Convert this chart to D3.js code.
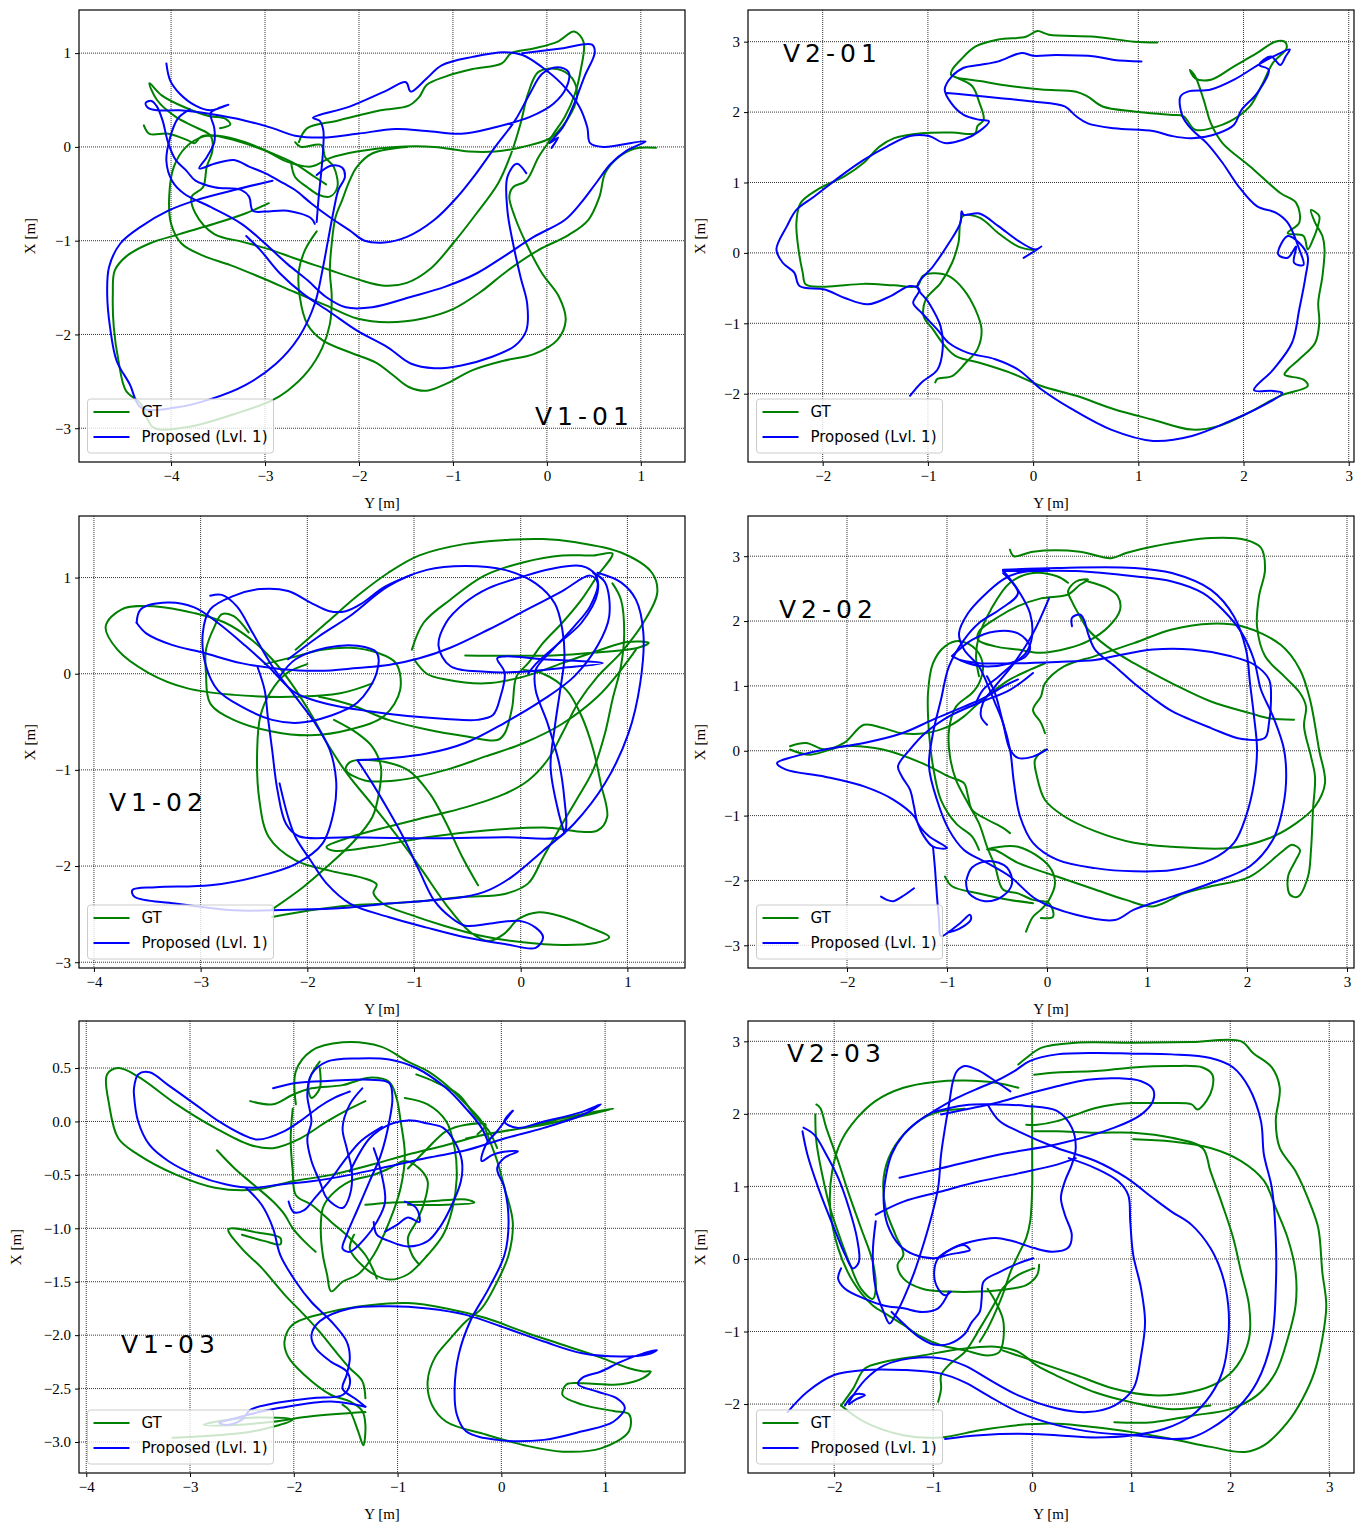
<!DOCTYPE html>
<html>
<head>
<meta charset="utf-8">
<script src="https://cdn.jsdelivr.net/npm/d3@7"></script>
<style>
  body { margin: 0; background: #fff; }
  text { font-family: "Liberation Serif", "DejaVu Serif", serif; }
</style>
</head>
<body>
<svg id="fig"></svg>
<script>
// Trajectories, each stroke is a list of [Y, X] in metres (Y horizontal, X vertical)

// ---- V1-01
var v101Gt = [
  [[1.16,-0.01],[0.93,-0.02],[0.75,-0.12],[0.62,-0.28],[0.56,-0.53],[0.44,-0.78],[0.23,-0.94],[-0.09,-1.10],[-0.42,-1.32],[-0.71,-1.55],[-1.00,-1.73],[-1.32,-1.83],[-1.69,-1.87],[-2.02,-1.83],[-2.35,-1.69],[-2.68,-1.55],[-3.05,-1.39],[-3.37,-1.26],[-3.66,-1.16],[-3.89,-1.03],[-4.00,-0.82],[-4.02,-0.53],[-3.97,-0.21],[-3.84,0.00],[-3.66,0.11],[-3.54,0.12],[-3.25,0.05],[-3.00,-0.04],[-2.76,-0.16],[-2.51,-0.21],[-2.31,-0.12],[-2.02,-0.05],[-1.61,0.00],[-1.20,0.00],[-0.83,-0.05],[-0.55,-0.05],[-0.26,0.00],[0.03,0.09],[0.21,0.28],[0.32,0.53],[0.27,0.73],[0.11,0.83],[-0.09,0.80],[-0.20,0.57],[-0.28,0.25],[-0.38,-0.07],[-0.52,-0.39],[-0.75,-0.71],[-1.00,-1.03],[-1.24,-1.30],[-1.49,-1.45],[-1.73,-1.48],[-2.02,-1.41],[-2.35,-1.30],[-2.68,-1.19],[-2.96,-1.09],[-3.25,-1.01],[-3.54,-0.93],[-3.74,-0.71],[-3.78,-0.53],[-3.66,-0.43],[-3.62,-0.21],[-3.56,-0.04],[-3.58,0.12],[-3.74,0.21],[-3.95,0.32],[-4.15,0.50],[-4.23,0.68],[-4.10,0.55],[-3.85,0.42],[-3.60,0.33],[-3.42,0.30],[-3.37,0.24],[-3.48,0.20]],
  [[-4.29,0.23],[-4.23,0.14],[-4.03,0.14],[-3.82,0.07],[-3.75,0.04],[-3.68,0.11],[-3.50,0.12],[-3.21,0.05],[-2.92,-0.07],[-2.68,-0.18],[-2.50,-0.30],[-2.35,-0.40]],
  [[-2.64,0.05],[-2.55,0.20],[-2.23,0.28],[-1.77,0.39],[-1.47,0.44],[-1.36,0.53],[-1.28,0.66],[-1.08,0.75],[-0.79,0.83],[-0.48,0.89],[-0.38,1.00],[-0.14,1.05],[0.11,1.12],[0.29,1.23],[0.39,1.12],[0.36,0.82],[0.30,0.57],[0.19,0.32],[0.07,0.14],[0.01,0.04],[-0.09,-0.11],[-0.22,-0.36],[-0.36,-0.43],[-0.40,-0.53],[-0.34,-0.75],[-0.22,-1.03],[-0.05,-1.35],[0.13,-1.60],[0.20,-1.85],[0.11,-2.06],[-0.14,-2.21],[-0.46,-2.28],[-0.79,-2.38],[-1.08,-2.53],[-1.28,-2.60],[-1.47,-2.56],[-1.63,-2.44],[-1.82,-2.30],[-2.10,-2.19],[-2.39,-2.06],[-2.55,-1.89],[-2.63,-1.60],[-2.64,-1.32],[-2.57,-1.09],[-2.45,-0.90]],
  [[-2.96,-0.60],[-3.21,-0.71],[-3.54,-0.82],[-3.91,-0.93],[-4.23,-1.03],[-4.48,-1.17],[-4.60,-1.32],[-4.62,-1.57],[-4.61,-1.92],[-4.56,-2.28],[-4.48,-2.60],[-4.32,-2.74],[-4.19,-2.99],[-3.84,-2.99],[-3.33,-2.85],[-2.92,-2.70],[-2.76,-2.60],[-2.55,-2.40],[-2.39,-2.14],[-2.31,-1.89],[-2.29,-1.60],[-2.31,-1.32],[-2.29,-1.03],[-2.25,-0.75],[-2.18,-0.57],[-2.10,-0.36],[-2.02,-0.21],[-1.86,-0.07],[-1.49,0.00]],
  [[-2.68,0.05],[-2.62,0.00],[-2.40,0.02],[-2.36,-0.11],[-2.27,-0.21],[-2.23,-0.43],[-2.31,-0.53],[-2.43,-0.51],[-2.55,-0.43],[-2.68,-0.32],[-2.72,-0.18]]
];
var v101Est = [
  [[-4.05,0.89],[-4.01,0.71],[-3.91,0.57],[-3.74,0.44],[-3.58,0.39],[-3.39,0.45],[-3.50,0.41],[-3.58,0.36],[-3.54,0.20],[-3.54,0.05],[-3.62,-0.11],[-3.70,-0.23],[-3.54,-0.18],[-3.33,-0.14],[-3.17,-0.21],[-3.00,-0.28],[-2.80,-0.39],[-2.68,-0.46],[-2.51,-0.60],[-2.31,-0.75],[-2.10,-0.89],[-1.94,-1.00],[-1.73,-1.02],[-1.49,-0.96],[-1.20,-0.78],[-0.95,-0.53],[-0.75,-0.28],[-0.55,0.00],[-0.34,0.28],[-0.18,0.57],[-0.05,0.78],[0.11,0.85],[0.23,0.80],[0.21,0.64],[0.07,0.46],[-0.18,0.32],[-0.55,0.21],[-0.91,0.14],[-1.28,0.17],[-1.61,0.19],[-2.02,0.14],[-2.39,0.10],[-2.68,0.12],[-2.92,0.20],[-3.21,0.28],[-3.58,0.35],[-3.91,0.39],[-4.15,0.39],[-4.25,0.42],[-4.27,0.47],[-4.21,0.49],[-4.15,0.43],[-4.09,0.28],[-4.03,0.04],[-3.95,-0.14],[-3.84,-0.25],[-3.74,-0.36],[-3.54,-0.43],[-3.25,-0.46],[-3.17,-0.53],[-3.13,-0.68],[-3.00,-0.69],[-2.76,-0.68],[-2.51,-0.76],[-2.47,-0.82]],
  [[-2.45,-0.80],[-2.43,-0.55],[-2.40,-0.25],[-2.38,0.00],[-2.38,0.18],[-2.42,0.28],[-2.49,0.31],[-2.10,0.43],[-1.73,0.59],[-1.50,0.69],[-1.45,0.59],[-1.28,0.73],[-1.12,0.87],[-0.79,0.96],[-0.46,1.01],[-0.26,0.98],[-0.05,0.85],[0.15,0.68],[0.34,0.44],[0.43,0.21],[0.46,0.04],[0.60,0.00],[1.05,0.06],[0.85,-0.04],[0.68,-0.18],[0.52,-0.39],[0.36,-0.60],[0.19,-0.78],[-0.14,-0.96],[-0.46,-1.17],[-0.75,-1.35],[-1.08,-1.49],[-1.45,-1.60],[-1.86,-1.71],[-2.14,-1.71],[-2.35,-1.60],[-2.55,-1.42],[-2.76,-1.25],[-3.00,-1.03],[-3.25,-0.82],[-3.58,-0.64],[-3.86,-0.50],[-3.99,-0.36],[-4.05,-0.15],[-4.01,0.10],[-3.93,0.30],[-3.80,0.40]],
  [[-0.26,1.00],[0.15,1.05],[0.48,1.09],[0.51,1.01],[0.40,0.75],[0.29,0.46],[0.17,0.21],[0.03,0.04],[0.12,0.10],[0.05,-0.01]],
  [[-0.22,-0.28],[-0.32,-0.18],[-0.42,-0.32],[-0.42,-0.68],[-0.36,-1.03],[-0.28,-1.39],[-0.21,-1.67],[-0.22,-1.96],[-0.34,-2.12],[-0.59,-2.24],[-0.91,-2.33],[-1.20,-2.36],[-1.45,-2.31],[-1.69,-2.14],[-2.02,-1.96],[-2.31,-1.76],[-2.59,-1.57],[-2.84,-1.35],[-3.05,-1.10],[-3.20,-0.95]],
  [[-2.92,-0.36],[-3.33,-0.46],[-3.74,-0.57],[-4.03,-0.68],[-4.32,-0.85],[-4.54,-1.03],[-4.66,-1.28],[-4.68,-1.57],[-4.65,-1.92],[-4.58,-2.28],[-4.44,-2.53],[-4.32,-2.78],[-3.95,-2.78],[-3.58,-2.69],[-3.21,-2.54],[-2.88,-2.31],[-2.64,-2.03],[-2.47,-1.67],[-2.39,-1.32],[-2.33,-1.00],[-2.27,-0.68],[-2.22,-0.46],[-2.15,-0.32],[-2.18,-0.22],[-2.30,-0.20],[-2.45,-0.30]]
];

// ---- V2-01
var v201Gt = [
  [[1.18,2.99],[0.96,3.00],[0.59,3.07],[0.15,3.10],[0.04,3.15],[-0.07,3.07],[-0.33,3.03],[-0.55,2.93],[-0.69,2.74],[-0.77,2.60],[-0.78,2.53],[-0.71,2.48],[-0.58,2.37],[-0.51,2.13],[-0.47,1.89],[-0.53,1.80],[-0.55,1.70],[-0.77,1.71],[-1.06,1.70],[-1.32,1.63],[-1.46,1.51],[-1.61,1.28],[-1.79,1.09],[-2.05,0.90],[-2.21,0.71],[-2.25,0.43],[-2.23,0.05],[-2.19,-0.28],[-2.16,-0.45],[-1.98,-0.48],[-1.61,-0.44],[-1.32,-0.46],[-1.10,-0.47],[-1.05,-0.33],[-0.95,-0.29],[-0.80,-0.33],[-0.66,-0.52],[-0.55,-0.80],[-0.49,-1.09],[-0.53,-1.37],[-0.64,-1.56],[-0.77,-1.75],[-0.91,-1.79],[-0.93,-1.84]],
  [[0.00,0.04],[-0.14,0.09],[-0.33,0.28],[-0.51,0.50],[-0.67,0.52],[-0.71,0.14],[-0.77,-0.14],[-0.88,-0.43],[-1.02,-0.66],[-1.04,-0.90],[-0.95,-1.09],[-0.84,-1.32],[-0.73,-1.47],[-0.51,-1.56],[-0.22,-1.70],[0.08,-1.89],[0.41,-2.03],[0.77,-2.22],[1.14,-2.37],[1.51,-2.51],[1.76,-2.46],[2.05,-2.27],[2.35,-2.03],[2.61,-1.89],[2.57,-1.80],[2.39,-1.73],[2.42,-1.66],[2.53,-1.51],[2.68,-1.28],[2.72,-0.99],[2.71,-0.71],[2.75,-0.33],[2.77,0.05],[2.75,0.24],[2.68,0.43],[2.64,0.61],[2.72,0.52],[2.70,0.35],[2.66,0.19],[2.61,0.05],[2.57,0.24],[2.42,0.28],[2.53,0.43],[2.50,0.71],[2.35,0.85],[2.06,1.23],[1.80,1.56],[1.69,1.84],[1.62,2.18],[1.54,2.51],[1.49,2.60],[1.54,2.48],[1.69,2.46],[1.91,2.65],[2.13,2.84],[2.30,3.00],[2.39,3.00],[2.41,2.91],[2.28,2.70],[2.17,2.37],[2.06,2.08],[1.95,1.94],[1.76,1.80],[1.54,1.75],[1.43,1.94],[1.32,1.96],[0.96,2.01],[0.66,2.08],[0.52,2.22],[0.41,2.29],[0.08,2.32],[-0.22,2.37],[-0.51,2.44],[-0.71,2.48]]
];
var v201Est = [
  [[1.03,2.72],[0.77,2.74],[0.59,2.79],[0.22,2.81],[0.00,2.80],[-0.11,2.84],[-0.33,2.72],[-0.51,2.67],[-0.66,2.63],[-0.77,2.51],[-0.84,2.32],[-0.78,2.13],[-0.66,1.96],[-0.51,1.89],[-0.42,1.87],[-0.51,1.73],[-0.66,1.61],[-0.84,1.56],[-0.99,1.66],[-1.17,1.66],[-1.39,1.51],[-1.61,1.32],[-1.83,1.09],[-2.08,0.80],[-2.25,0.61],[-2.34,0.38],[-2.44,0.05],[-2.38,-0.14],[-2.27,-0.28],[-2.22,-0.47],[-1.98,-0.52],[-1.79,-0.64],[-1.57,-0.73],[-1.35,-0.61],[-1.17,-0.47],[-1.08,-0.52],[-1.14,-0.71],[-1.06,-0.85],[-0.91,-1.09],[-0.80,-1.28],[-0.62,-1.42],[-0.36,-1.51],[-0.14,-1.66],[0.08,-1.94],[0.37,-2.22],[0.74,-2.51],[1.14,-2.67],[1.51,-2.60],[1.87,-2.39],[2.17,-2.18],[2.37,-1.99],[2.28,-1.96],[2.10,-1.95],[2.28,-1.66],[2.46,-1.28],[2.53,-0.80],[2.59,-0.33],[2.61,-0.05],[2.53,0.14],[2.42,0.24],[2.33,-0.02],[2.42,-0.07],[2.50,0.09],[2.48,-0.14],[2.57,-0.17],[2.53,0.05],[2.42,0.43],[2.31,0.57],[2.13,0.66],[1.95,0.95],[1.80,1.28],[1.65,1.56],[1.51,1.75],[1.42,1.94],[1.40,2.22],[1.47,2.29],[1.69,2.32],[1.91,2.46],[2.17,2.70],[2.31,2.81],[2.44,2.89],[2.40,2.79],[2.35,2.67],[2.26,2.79],[2.15,2.67],[2.24,2.60],[2.13,2.27],[1.98,2.03],[1.91,1.82],[1.76,1.70],[1.51,1.63],[1.32,1.66],[1.14,1.73],[0.77,1.77],[0.52,1.84],[0.41,1.94],[0.30,2.08],[0.00,2.15],[-0.33,2.20],[-0.66,2.25],[-0.82,2.27]],
  [[-0.09,-0.07],[0.08,0.09],[0.02,0.05],[-0.14,0.17],[-0.33,0.38],[-0.51,0.56],[-0.66,0.54],[-0.68,0.59],[-0.69,0.43],[-0.80,0.14],[-0.95,-0.19],[-1.10,-0.47],[-0.99,-0.71],[-0.88,-1.04],[-0.86,-1.37],[-0.91,-1.66],[-1.06,-1.84],[-1.17,-2.03]]
];

// ---- V1-02
var v102Gt = [
  [[-1.39,-0.10],[-1.68,-0.20],[-2.15,-0.24],[-2.69,-0.22],[-3.13,-0.15],[-3.49,0.01],[-3.78,0.25],[-3.89,0.49],[-3.74,0.67],[-3.42,0.70],[-3.06,0.63],[-2.77,0.53],[-2.52,0.35],[-2.33,0.15],[-2.15,-0.10],[-1.95,-0.45],[-1.80,-0.75],[-1.62,-1.05],[-1.40,-1.35],[-1.15,-1.70],[-0.92,-2.05],[-0.70,-2.40],[-0.48,-2.68],[-0.30,-2.78],[-0.15,-2.70],[-0.02,-2.55],[0.17,-2.48],[0.40,-2.53],[0.65,-2.64],[0.83,-2.74],[0.70,-2.80],[0.40,-2.82],[0.00,-2.79],[-0.35,-2.73],[-0.72,-2.62],[-1.05,-2.50],[-1.28,-2.40],[-1.38,-2.28],[-1.35,-2.19],[-1.49,-2.12],[-1.78,-2.05],[-2.11,-1.94],[-2.36,-1.70],[-2.45,-1.31],[-2.47,-0.79],[-2.44,-0.44],[-2.35,-0.20],[-2.20,0.00],[-2.00,0.10]],
  [[-2.11,0.25],[-1.82,0.53],[-1.53,0.81],[-1.24,1.05],[-0.95,1.23],[-0.52,1.35],[-0.15,1.39],[0.21,1.40],[0.50,1.37],[0.94,1.26],[1.23,1.05],[1.28,0.84],[1.15,0.53],[0.94,0.22],[0.72,-0.03],[0.54,-0.30],[0.39,-0.62],[0.25,-0.90],[0.07,-1.11],[-0.15,-1.25],[-0.52,-1.39],[-0.88,-1.49],[-1.24,-1.59],[-1.60,-1.70],[-1.82,-1.80],[-1.75,-1.84],[-1.39,-1.80],[-0.88,-1.70],[-0.33,-1.63],[0.21,-1.60],[0.72,-1.63],[0.81,-1.49],[0.75,-1.14],[0.68,-0.79],[0.57,-0.44],[0.43,-0.17],[0.21,0.00],[0.03,0.04]],
  [[-1.02,0.25],[-0.91,0.53],[-0.66,0.77],[-0.34,1.02],[0.03,1.16],[0.39,1.23],[0.68,1.23],[0.86,1.25],[0.72,1.02],[0.57,0.77],[0.39,0.53],[0.21,0.32],[0.07,0.11],[-0.04,-0.03],[-0.08,-0.35],[-0.15,-0.62],[-0.22,-0.69],[-0.52,-0.65],[-0.88,-0.58],[-1.24,-0.48],[-1.60,-0.32],[-1.89,-0.24]],
  [[-1.00,0.15],[-0.88,0.00],[-0.70,-0.06],[-0.33,-0.10],[0.03,-0.03],[0.39,0.11],[0.75,0.25],[1.00,0.33],[1.20,0.32],[1.10,0.27],[0.70,0.22],[0.30,0.19],[-0.52,0.19]],
  [[-2.55,0.43],[-2.69,0.60],[-2.80,0.62],[-2.87,0.49],[-2.95,0.25],[-2.95,0.01],[-2.91,-0.31],[-2.69,-0.48],[-2.33,-0.60],[-1.97,-0.64],[-1.60,-0.58],[-1.28,-0.44],[-1.13,-0.17],[-1.17,0.11],[-1.35,0.22],[-1.60,0.27],[-1.86,0.25],[-2.11,0.18],[-2.40,0.10]],
  [[-2.33,-2.45],[-2.04,-2.22],[-1.82,-2.01],[-1.57,-1.75],[-1.39,-1.49],[-1.33,-1.25],[-1.31,-0.97],[-1.39,-0.76],[-1.53,-0.62],[-1.75,-0.48]],
  [[-2.33,-2.53],[-1.97,-2.46],[-1.60,-2.41],[-1.24,-2.39],[-0.88,-2.36],[-0.52,-2.32],[-0.15,-2.29],[0.07,-2.18],[0.21,-1.91],[0.39,-1.56],[0.54,-1.28],[0.68,-1.00],[0.79,-0.62],[0.86,-0.27],[0.94,0.08],[0.97,0.42],[0.94,0.77],[0.86,0.94]],
  [[1.08,0.25],[0.94,0.04],[0.72,-0.24],[0.39,-0.52],[0.03,-0.72],[-0.33,-0.86],[-0.70,-1.00],[-1.17,-1.11],[-1.46,-1.11],[-1.64,-1.00],[-1.60,-0.92],[-1.39,-0.90],[-1.06,-1.00],[-0.85,-1.25],[-0.70,-1.55],[-0.55,-1.90],[-0.40,-2.20]]
];
var v102Est = [
  [[-3.60,0.53],[-3.56,0.67],[-3.31,0.74],[-3.06,0.69],[-2.84,0.53],[-2.58,0.29],[-2.37,0.08],[-2.11,-0.20],[-1.79,-0.32],[-1.42,-0.39],[-1.06,-0.44],[-0.70,-0.47],[-0.41,-0.48],[-0.26,-0.43],[-0.19,-0.24],[-0.15,0.01],[-0.22,0.16],[-0.15,0.18],[0.21,0.15],[0.77,0.11],[0.39,0.06],[0.03,0.02],[-0.33,0.02],[-0.66,0.08],[-0.77,0.29],[-0.70,0.53],[-0.52,0.74],[-0.30,0.89],[-0.01,1.00],[0.28,1.09],[0.57,1.12],[0.70,1.03],[0.72,0.84],[0.57,0.53],[0.36,0.32],[0.14,0.10],[0.07,0.00]],
  [[-3.60,0.53],[-3.51,0.42],[-3.27,0.30],[-2.98,0.22],[-2.62,0.11],[-2.26,0.05],[-1.89,0.03],[-1.53,0.06],[-1.24,0.09],[-0.95,0.16],[-0.66,0.27],[-0.30,0.46],[0.03,0.65],[0.39,0.86],[0.65,1.02],[0.72,0.95],[0.65,0.70],[0.50,0.49],[0.30,0.25],[0.14,0.04],[0.14,-0.17],[0.25,-0.51],[0.36,-0.93],[0.41,-1.31],[0.42,-1.63],[0.36,-1.70],[-0.15,-1.70],[-0.88,-1.71],[-1.60,-1.70],[-2.08,-1.69],[-2.20,-1.56],[-2.28,-1.21],[-2.33,-0.79],[-2.37,-0.45],[-2.40,-0.17],[-2.47,0.08]],
  [[-2.18,0.15],[-1.89,0.39],[-1.60,0.60],[-1.24,0.91],[-0.88,1.08],[-0.52,1.12],[-0.15,1.08],[0.14,0.94],[0.32,0.73],[0.39,0.46],[0.41,0.18],[0.37,-0.17],[0.32,-0.55],[0.28,-0.97],[0.35,-1.42],[0.41,-1.66]],
  [[-1.02,1.03],[-1.28,0.90],[-1.49,0.73],[-1.64,0.65],[-1.79,0.65],[-1.97,0.74],[-2.18,0.86],[-2.44,0.88],[-2.69,0.81],[-2.91,0.67],[-2.98,0.42],[-2.95,0.08],[-2.84,-0.17],[-2.62,-0.34],[-2.33,-0.48],[-2.08,-0.51],[-1.79,-0.44],[-1.53,-0.30],[-1.35,0.01],[-1.35,0.22],[-1.53,0.29],[-1.82,0.27],[-2.11,0.15],[-2.26,-0.03]],
  [[0.72,1.05],[0.94,0.95],[1.08,0.77],[1.15,0.42],[1.12,-0.10],[1.01,-0.62],[0.79,-1.14],[0.50,-1.56],[0.21,-1.84],[-0.08,-2.11],[-0.30,-2.25],[-0.52,-2.32],[-0.88,-2.36],[-1.24,-2.39],[-1.60,-2.43],[-1.97,-2.45],[-2.33,-2.46],[-2.69,-2.46],[-3.24,-2.39],[-3.62,-2.32],[-3.64,-2.25],[-3.42,-2.22],[-2.91,-2.20],[-2.47,-2.11],[-2.11,-1.98],[-1.86,-1.77],[-1.75,-1.42],[-1.73,-1.11],[-1.79,-0.79],[-1.93,-0.51],[-2.11,-0.24],[-2.33,0.08],[-2.51,0.42],[-2.66,0.70],[-2.80,0.82],[-2.91,0.81]],
  [[-1.53,-0.90],[-1.39,-1.14],[-1.24,-1.42],[-1.10,-1.70],[-0.95,-2.05],[-0.81,-2.36],[-0.66,-2.53],[-0.52,-2.62],[-0.30,-2.60],[-0.01,-2.57],[0.14,-2.64],[0.21,-2.74],[0.14,-2.85],[-0.15,-2.81],[-0.52,-2.74],[-0.88,-2.64],[-1.24,-2.53],[-1.60,-2.39],[-1.82,-2.18],[-1.97,-1.94],[-2.11,-1.70],[-2.18,-1.49],[-2.26,-1.14]],
  [[-1.53,-0.90],[-1.24,-0.88],[-0.88,-0.83],[-0.52,-0.72],[-0.15,-0.51],[0.21,-0.27],[0.50,-0.03],[0.72,0.29],[0.83,0.60],[0.79,0.95],[0.68,1.05]]
];

// ---- V2-02
var v202Gt = [
  [[-0.37,3.10],[-0.33,3.00],[-0.14,3.07],[0.33,3.07],[0.64,2.97],[0.79,3.05],[1.06,3.15],[1.64,3.28],[1.99,3.25],[2.14,3.13],[2.18,2.79],[2.12,2.38],[2.10,1.92],[2.18,1.46],[2.37,1.15],[2.53,0.89],[2.59,0.68],[2.57,0.38],[2.64,-0.09],[2.68,-0.40],[2.66,-0.91],[2.64,-1.53],[2.61,-1.94],[2.51,-2.25],[2.43,-2.22],[2.41,-1.94],[2.49,-1.68],[2.53,-1.53],[2.45,-1.45],[2.37,-1.53],[2.03,-1.94],[1.64,-2.09],[1.37,-2.20],[1.06,-2.40],[0.79,-2.30],[0.48,-2.14],[0.10,-1.94],[-0.29,-1.73],[-0.52,-1.53],[-0.60,-1.52],[-0.29,-1.48],[0.02,-1.78],[0.08,-2.04],[0.02,-2.30],[-0.06,-2.45],[-0.14,-2.56],[-0.21,-2.79]],
  [[-0.02,0.27],[-0.06,0.43],[-0.14,0.63],[-0.06,0.84],[-0.02,1.04],[0.17,1.30],[0.48,1.46],[0.87,1.66],[1.25,1.87],[1.64,1.96],[1.95,1.92],[2.34,1.63],[2.53,1.25],[2.63,0.79],[2.72,0.02],[2.78,-0.50],[2.68,-0.86],[2.49,-1.12],[2.22,-1.35],[1.83,-1.50],[1.25,-1.48],[0.87,-1.42],[0.48,-1.24],[0.17,-1.01],[-0.02,-0.76],[-0.10,-0.40],[-0.12,-0.14],[-0.02,0.02]],
  [[2.47,0.48],[2.22,0.50],[2.03,0.58],[1.64,0.76],[1.25,1.04],[0.87,1.35],[0.60,1.61],[0.41,1.87],[0.33,2.07],[0.25,2.30],[0.21,2.46],[0.29,2.61],[0.41,2.64],[0.33,2.56],[0.21,2.41],[-0.06,2.35],[-0.29,2.23],[-0.48,2.07],[-0.68,1.84],[-0.69,1.71],[-0.52,1.61],[-0.29,1.56],[-0.06,1.51],[0.21,1.58],[0.41,1.69],[0.62,1.92],[0.73,2.17],[0.71,2.38],[0.60,2.51],[0.41,2.61]],
  [[-2.57,0.07],[-2.41,0.12],[-2.22,0.02],[-2.03,0.12],[-1.83,0.40],[-1.64,0.35],[-1.45,0.27],[-1.22,0.27],[-0.98,0.38],[-0.83,0.53],[-0.68,0.74],[-0.52,0.94],[-0.37,1.10],[-0.17,1.25],[-0.02,1.35]],
  [[-2.57,0.02],[-2.37,-0.06],[-2.03,0.07],[-1.64,0.02],[-1.25,-0.19],[-0.98,-0.40],[-0.83,-0.50],[-0.79,-0.70],[-0.75,-0.91],[-0.60,-1.06],[-0.44,-1.19],[-0.37,-1.27]],
  [[-1.18,0.27],[-1.19,0.89],[-1.14,1.35],[-1.02,1.61],[-0.87,1.69],[-0.71,1.56],[-0.64,1.30],[-0.68,1.04],[-0.75,0.89],[-0.91,0.68],[-0.98,0.32],[-0.97,-0.09],[-0.91,-0.45],[-0.79,-0.81],[-0.68,-1.12],[-0.60,-1.48],[-0.52,-1.78],[-0.44,-2.14],[-0.29,-2.20],[-0.14,-2.30],[0.02,-2.35],[0.06,-2.56],[-0.06,-2.58]],
  [[-1.18,0.27],[-1.14,-0.24],[-1.06,-0.76],[-0.91,-1.12],[-0.75,-1.32],[-0.68,-1.53]],
  [[-1.02,-1.94],[-0.95,-2.09],[-0.68,-2.20],[-0.37,-2.30],[-0.14,-2.35]],
  [[-0.68,1.15],[-0.71,1.46],[-0.68,1.77],[-0.56,2.18],[-0.37,2.59],[-0.14,2.74],[0.10,2.69],[0.21,2.59]]
];
var v202Est = [
  [[-0.44,2.79],[0.10,2.82],[0.87,2.82],[1.25,2.74],[1.64,2.48],[1.87,2.07],[1.99,1.56],[2.03,1.04],[2.07,0.53],[2.10,0.02],[2.07,-0.50],[1.99,-1.01],[1.87,-1.42],[1.64,-1.68],[1.25,-1.84],[0.87,-1.86],[0.48,-1.81],[0.10,-1.68],[-0.14,-1.42],[-0.27,-1.01],[-0.33,-0.50],[-0.37,0.02],[-0.44,0.43],[-0.52,0.74],[-0.60,1.04],[-0.68,1.30],[-0.83,1.56],[-0.88,1.81],[-0.79,2.12],[-0.64,2.38],[-0.44,2.64],[-0.29,2.74],[0.02,2.79]],
  [[-0.44,2.77],[-0.21,2.77],[0.29,2.77],[0.87,2.69],[1.25,2.61],[1.56,2.43],[1.76,2.17],[1.95,1.81],[2.07,1.40],[2.14,0.94],[2.26,0.53],[2.37,0.02],[2.39,-0.50],[2.34,-1.01],[2.26,-1.37],[2.03,-1.78],[1.64,-2.04],[1.25,-2.25],[0.87,-2.45],[0.68,-2.61],[0.29,-2.53],[-0.10,-2.30],[-0.37,-1.94],[-0.60,-1.73],[-0.83,-1.53],[-0.98,-1.22],[-1.10,-0.76],[-1.18,-0.24],[-1.14,0.27],[-1.06,0.79],[-0.98,1.30],[-0.83,1.71],[-0.68,1.97],[-0.48,2.17],[-0.29,2.43],[-0.44,2.74]],
  [[-0.44,2.78],[-0.29,2.48],[-0.17,2.12],[-0.15,1.76],[-0.21,1.51],[-0.33,1.35],[-0.48,1.15],[-0.64,0.94],[-0.71,0.74]],
  [[-0.87,1.40],[-0.68,1.35],[-0.29,1.35],[0.10,1.37],[0.48,1.40],[0.68,1.46],[1.06,1.56],[1.45,1.56],[1.83,1.46],[2.07,1.33],[2.22,1.10],[2.24,0.79],[2.22,0.43],[2.18,0.20],[1.95,0.18],[1.64,0.35],[1.25,0.61],[1.06,0.81],[0.87,1.04],[0.68,1.30],[0.48,1.56],[0.41,1.81],[0.37,2.02],[0.33,2.10],[0.25,2.05],[0.25,1.92]],
  [[-0.29,1.10],[-0.44,0.99],[-0.60,0.84],[-0.83,0.68],[-1.14,0.48],[-1.45,0.27],[-1.83,0.12],[-2.22,0.02],[-2.53,-0.09],[-2.70,-0.19],[-2.61,-0.29],[-2.22,-0.40],[-1.83,-0.55],[-1.53,-0.76],[-1.33,-1.01],[-1.25,-1.27],[-1.14,-1.48],[-1.00,-1.50],[-1.18,-1.32],[-1.29,-1.12],[-1.33,-0.86],[-1.37,-0.60],[-1.45,-0.40],[-1.49,-0.24],[-1.37,0.02],[-1.22,0.27],[-0.98,0.53],[-0.68,0.74],[-0.37,0.94],[-0.14,1.20]],
  [[-0.81,-2.02],[-0.75,-1.80],[-0.58,-1.70],[-0.40,-1.80],[-0.35,-2.05],[-0.45,-2.25],[-0.62,-2.32],[-0.78,-2.20],[-0.81,-2.02]],
  [[-1.66,-2.25],[-1.60,-2.30],[-1.54,-2.32],[-1.45,-2.25],[-1.33,-2.12]],
  [[-1.14,-1.48],[-1.12,-1.82],[-1.10,-2.25],[-1.08,-2.60],[-1.06,-2.86],[-0.98,-2.79],[-0.87,-2.66],[-0.77,-2.53],[-0.76,-2.60],[-0.87,-2.74],[-0.98,-2.80]],
  [[-0.95,1.46],[-0.75,1.71],[-0.52,1.84],[-0.29,1.81],[-0.17,1.61],[-0.21,1.46],[-0.37,1.35],[-0.60,1.30],[-0.79,1.35],[-0.95,1.46]],
  [[0.02,2.35],[-0.14,1.81],[-0.33,1.35],[-0.52,0.99],[-0.64,0.74],[-0.66,0.53],[-0.60,0.40]],
  [[-0.60,1.15],[-0.52,0.89],[-0.44,0.43],[-0.37,0.02],[-0.29,-0.11],[-0.14,-0.09],[0.00,0.02]]
];

// ---- V1-03
var v103Gt = [
  [[-1.31,0.19],[-1.46,0.12],[-1.68,0.00],[-1.94,-0.16],[-2.20,-0.25],[-2.42,-0.22],[-2.76,-0.06],[-3.13,0.16],[-3.50,0.42],[-3.69,0.50],[-3.80,0.44],[-3.78,0.16],[-3.69,-0.16],[-3.50,-0.31],[-3.13,-0.50],[-2.76,-0.62],[-2.39,-0.64],[-2.01,-0.56],[-1.64,-0.50],[-1.27,-0.41],[-0.90,-0.31],[-0.53,-0.22],[-0.15,-0.12],[0.22,-0.06],[0.59,0.03],[1.08,0.12],[0.78,0.05],[0.41,-0.03],[0.03,-0.09],[-0.34,-0.16]],
  [[-1.98,0.16],[-1.98,0.47],[-1.83,0.66],[-1.53,0.74],[-1.16,0.70],[-0.90,0.56],[-0.71,0.47],[-0.53,0.34],[-0.34,0.16],[-0.19,0.00],[-0.12,-0.16],[-0.04,-0.37],[0.03,-0.62],[0.11,-0.94],[0.07,-1.25],[-0.04,-1.50],[-0.19,-1.75],[-0.34,-1.87],[-0.49,-2.03],[-0.64,-2.21],[-0.71,-2.43],[-0.67,-2.65],[-0.53,-2.81],[-0.15,-2.93],[0.22,-3.03],[0.59,-3.09],[0.96,-3.06],[1.23,-2.90],[1.23,-2.74],[1.08,-2.71],[0.78,-2.65],[0.59,-2.56],[0.63,-2.46],[0.78,-2.45],[1.15,-2.46],[1.37,-2.40],[1.44,-2.34],[1.37,-2.34],[1.23,-2.31],[0.96,-2.21],[0.59,-2.09],[0.22,-1.97],[-0.15,-1.84],[-0.53,-1.75],[-0.90,-1.70],[-1.27,-1.72],[-1.64,-1.78],[-2.01,-1.90],[-2.09,-2.06],[-2.05,-2.21],[-1.90,-2.37],[-1.64,-2.56],[-1.46,-2.62],[-1.34,-2.71],[-1.31,-2.84],[-1.33,-3.03],[-1.38,-2.90],[-1.46,-2.71],[-1.53,-2.65]],
  [[-2.01,0.12],[-2.03,-0.16],[-2.01,-0.47],[-1.98,-0.69],[-1.83,-0.78],[-1.64,-0.94],[-1.46,-1.09],[-1.31,-1.25],[-1.23,-1.40],[-1.20,-1.47]],
  [[-1.75,0.56],[-1.83,0.44],[-1.86,0.31],[-1.83,0.22],[-1.75,0.31],[-1.75,0.50]],
  [[-2.42,0.19],[-2.20,0.16],[-2.01,0.25],[-1.83,0.31],[-1.53,0.34],[-1.27,0.41],[-1.08,0.37],[-1.01,0.22],[-0.97,0.00],[-0.93,-0.31],[-0.97,-0.62],[-1.08,-0.94],[-1.23,-1.25],[-1.38,-1.43],[-1.53,-1.50],[-1.64,-1.59],[-1.68,-1.43],[-1.72,-1.25],[-1.74,-1.00],[-1.72,-0.81],[-1.64,-0.69],[-1.46,-0.56],[-1.23,-0.50],[-1.08,-0.44],[-0.93,-0.37],[-0.79,-0.44],[-0.71,-0.56],[-0.75,-0.78],[-0.82,-0.94],[-0.90,-1.09],[-0.86,-1.25],[-0.79,-1.34]],
  [[-2.74,-0.27],[-2.57,-0.44],[-2.39,-0.59],[-2.20,-0.75],[-2.09,-0.87],[-2.01,-1.00],[-1.90,-1.12],[-1.79,-1.22]],
  [[-2.50,-1.06],[-2.28,-1.12],[-2.13,-1.15],[-2.13,-1.09],[-2.35,-1.04],[-2.63,-1.01],[-2.50,-1.19],[-2.31,-1.37],[-2.09,-1.62],[-1.90,-1.81],[-1.75,-1.97],[-1.60,-2.15],[-1.46,-2.31],[-1.34,-2.43],[-1.31,-2.59]],
  [[-1.31,-0.78],[-1.08,-0.76],[-0.71,-0.75],[-0.34,-0.73],[-0.26,-0.76],[-0.53,-0.78],[-0.90,-0.78]],
  [[-0.93,0.22],[-0.71,0.16],[-0.53,0.00],[-0.45,-0.25],[-0.43,-0.53],[-0.47,-0.81],[-0.56,-1.06],[-0.71,-1.25],[-0.90,-1.43],[-1.08,-1.48],[-1.23,-1.43],[-1.38,-1.31],[-1.46,-1.19],[-1.42,-1.06]],
  [[-0.82,0.44],[-0.64,0.37],[-0.41,0.25],[-0.26,0.06],[-0.12,-0.09],[-0.04,-0.25]],
  [[-0.90,-0.44],[-0.71,-0.25],[-0.53,-0.09],[-0.34,-0.03],[-0.15,-0.03],[-0.23,-0.12]],
  [[-1.31,-2.72],[-1.83,-2.76],[-2.20,-2.81],[-2.57,-2.84],[-2.87,-2.84],[-2.70,-2.80],[-2.30,-2.77],[-2.01,-2.79],[-2.39,-2.90],[-2.95,-2.95],[-3.17,-2.96]]
];
var v103Est = [
  [[-1.46,0.28],[-1.61,0.22],[-1.75,0.14],[-1.90,0.03],[-2.09,-0.09],[-2.35,-0.17],[-2.50,-0.12],[-2.72,0.00],[-2.95,0.16],[-3.21,0.34],[-3.39,0.46],[-3.50,0.44],[-3.54,0.31],[-3.54,0.25],[-3.50,0.00],[-3.39,-0.22],[-3.21,-0.37],[-2.95,-0.50],[-2.65,-0.59],[-2.39,-0.62],[-2.13,-0.59],[-1.83,-0.56],[-1.46,-0.50],[-1.08,-0.42],[-0.71,-0.34],[-0.34,-0.27],[0.03,-0.16],[0.41,-0.06],[0.78,0.06],[0.96,0.16],[0.78,0.09],[0.41,0.00],[0.15,-0.06],[0.03,0.00],[0.11,0.10]],
  [[0.11,0.10],[-0.04,-0.09],[-0.15,-0.22],[-0.19,-0.37],[-0.08,-0.31],[0.07,-0.28],[0.16,-0.28],[0.03,-0.34],[-0.04,-0.44],[0.03,-0.62],[0.07,-0.94],[0.03,-1.25],[-0.12,-1.56],[-0.30,-1.87],[-0.41,-2.18],[-0.45,-2.50],[-0.43,-2.74],[-0.34,-2.90],[-0.04,-2.98],[0.41,-2.98],[0.78,-2.90],[1.08,-2.81],[1.19,-2.68],[1.11,-2.59],[0.93,-2.53],[0.74,-2.46],[0.78,-2.40],[0.96,-2.34],[1.15,-2.25],[1.34,-2.18],[1.50,-2.14],[1.41,-2.18],[1.15,-2.20],[0.78,-2.17],[0.41,-2.06],[0.03,-1.93],[-0.34,-1.81],[-0.71,-1.75],[-1.08,-1.73],[-1.46,-1.75],[-1.75,-1.87],[-1.83,-2.00],[-1.79,-2.12],[-1.64,-2.25],[-1.49,-2.34],[-1.46,-2.46],[-1.53,-2.56],[-1.83,-2.59],[-2.20,-2.64],[-2.42,-2.70],[-2.50,-2.79],[-2.65,-2.84],[-2.72,-2.82],[-2.61,-2.79],[-2.42,-2.74],[-2.13,-2.68],[-1.64,-2.62],[-1.31,-2.67]],
  [[-2.46,-0.62],[-2.31,-0.78],[-2.20,-1.00],[-2.13,-1.25],[-1.98,-1.50],[-1.83,-1.69],[-1.64,-1.87],[-1.49,-2.06],[-1.46,-2.21],[-1.49,-2.37],[-1.53,-2.50],[-1.40,-2.60],[-1.31,-2.67]],
  [[-2.20,0.31],[-1.98,0.36],[-1.64,0.38],[-1.27,0.39],[-1.08,0.36],[-1.05,0.22],[-1.08,0.00],[-1.16,-0.31],[-1.27,-0.56],[-1.38,-0.81],[-1.49,-1.06],[-1.53,-1.19],[-1.46,-1.22],[-1.31,-1.09],[-1.20,-0.94],[-1.12,-0.75],[-1.16,-0.47],[-1.23,-0.25]],
  [[-0.13,-0.19],[-0.19,-0.06],[-0.34,0.12],[-0.53,0.31],[-0.82,0.50],[-1.08,0.58],[-1.38,0.59],[-1.68,0.56],[-1.83,0.44],[-1.87,0.25],[-1.83,0.00],[-1.87,-0.16],[-1.83,-0.37],[-1.75,-0.56],[-1.68,-0.72],[-1.53,-0.81],[-1.46,-0.69],[-1.44,-0.47],[-1.49,-0.25],[-1.53,-0.06],[-1.46,0.16],[-1.34,0.31]],
  [[-1.46,-0.47],[-1.27,-0.16],[-1.08,-0.03],[-0.90,0.01],[-0.71,-0.02],[-0.56,-0.06],[-0.45,-0.19],[-0.38,-0.37],[-0.39,-0.56],[-0.49,-0.81],[-0.60,-1.00],[-0.71,-1.12],[-0.90,-1.17],[-1.08,-1.12],[-1.20,-1.06],[-1.23,-0.94]],
  [[-0.93,-0.75],[-0.82,-0.81],[-0.79,-0.94],[-0.90,-0.90],[-1.01,-0.97],[-1.12,-1.03]],
  [[-2.05,-0.75],[-2.00,-0.85],[-1.90,-0.83],[-1.80,-0.72],[-1.65,-0.55],[-1.50,-0.35],[-1.35,-0.18],[-1.15,-0.05]]
];

// ---- V2-03
var v203Gt = [
  [[-0.14,2.68],[-0.06,2.77],[0.09,2.91],[0.44,2.98],[1.02,2.98],[1.61,2.99],[2.11,3.00],[2.23,2.84],[2.42,2.64],[2.50,2.36],[2.46,1.90],[2.50,1.53],[2.66,1.21],[2.81,0.75],[2.89,0.42],[2.93,-0.18],[2.97,-0.64],[2.93,-1.10],[2.85,-1.56],[2.73,-1.93],[2.58,-2.25],[2.34,-2.57],[2.15,-2.66],[1.80,-2.59],[1.41,-2.48],[1.02,-2.39],[0.64,-2.32],[0.25,-2.27],[-0.14,-2.29],[-0.53,-2.36],[-0.92,-2.46],[-1.30,-2.43],[-1.69,-2.25],[-1.93,-2.02]],
  [[-0.14,2.36],[-0.37,2.43],[-0.68,2.46],[-0.99,2.44],[-1.30,2.36],[-1.58,2.18],[-1.77,1.94],[-1.93,1.62],[-2.02,1.21],[-2.04,0.70],[-1.96,0.15],[-1.81,-0.31],[-1.61,-0.64],[-1.46,-0.77],[-1.30,-0.91],[-1.15,-1.05],[-0.92,-1.19],[-0.68,-1.26],[-0.45,-1.33],[-0.33,-1.28],[-0.29,-0.87],[-0.37,-0.59],[-0.45,-0.41]],
  [[-2.18,2.13],[-2.14,2.08],[-2.08,1.81],[-1.96,1.35],[-1.85,0.89],[-1.73,0.43],[-1.61,-0.04],[-1.58,-0.41],[-1.61,-0.55],[-1.73,-0.41],[-1.85,-0.04],[-1.95,0.33],[-2.04,0.70],[-2.12,1.16],[-2.18,1.62],[-2.19,1.99]],
  [[0.02,2.54],[0.25,2.57],[0.64,2.59],[1.02,2.64],[1.41,2.66],[1.72,2.64],[1.82,2.54],[1.82,2.36],[1.76,2.18],[1.67,2.06],[1.61,2.13],[1.41,2.15],[1.22,2.15],[1.02,2.15],[0.83,2.13],[0.64,2.08],[0.44,1.99],[0.25,1.90],[0.05,1.85],[-0.06,1.85]],
  [[0.00,2.13],[0.00,1.44],[0.00,0.98],[-0.02,0.52],[-0.06,0.29],[-0.14,0.06],[-0.22,-0.18],[-0.30,-0.50],[-0.37,-0.73],[-0.45,-0.96],[-0.53,-1.14]],
  [[0.02,1.76],[0.25,1.76],[0.64,1.74],[1.02,1.74],[1.41,1.67],[1.72,1.53],[1.80,1.21],[1.92,0.75],[2.03,0.29],[2.11,-0.18],[2.19,-0.64],[2.19,-1.10],[2.07,-1.47],[1.88,-1.70],[1.61,-1.83],[1.22,-1.88],[0.83,-1.79],[0.44,-1.60],[0.05,-1.42],[-0.30,-1.26]],
  [[1.02,1.65],[1.41,1.62],[1.80,1.53],[2.11,1.35],[2.34,1.08],[2.46,0.70],[2.58,0.29],[2.66,-0.18],[2.66,-0.64],[2.58,-1.10],[2.46,-1.56],[2.27,-1.88],[2.00,-2.07],[1.61,-2.16],[1.22,-2.25],[0.83,-2.25]],
  [[-0.68,2.07],[-0.99,2.01],[-1.23,1.81],[-1.42,1.48],[-1.50,1.12],[-1.48,0.70],[-1.38,0.33],[-1.30,0.06],[-1.36,-0.08],[-1.30,-0.27],[-1.11,-0.41],[-0.84,-0.45],[-0.53,-0.45],[-0.22,-0.41],[-0.06,-0.36],[0.05,-0.22],[0.07,-0.08]],
  [[-1.93,-2.02],[-1.81,-1.79],[-1.69,-1.51],[-1.50,-1.42],[-1.11,-1.33],[-0.72,-1.24],[-0.37,-1.21],[-0.14,-1.28],[0.05,-1.47],[0.25,-1.61],[0.64,-1.84],[1.02,-1.98],[1.41,-2.07],[1.80,-2.02]],
  [[-0.95,-1.97],[-0.92,-1.79],[-0.92,-1.60],[-0.84,-1.46],[-0.68,-1.28],[-0.53,-0.96],[-0.37,-0.59],[-0.30,-0.41],[-0.14,-0.22],[0.02,-0.13]]
];
var v203Est = [
  [[-2.47,-2.11],[-2.27,-1.83],[-2.00,-1.60],[-1.69,-1.53],[-1.30,-1.53],[-0.92,-1.58],[-0.68,-1.70],[-0.45,-1.88],[-0.14,-2.11],[0.25,-2.29],[0.64,-2.39],[1.02,-2.43],[1.41,-2.48],[1.61,-2.46],[1.80,-2.34],[2.07,-2.06],[2.27,-1.70],[2.42,-1.10],[2.46,-0.41],[2.46,0.29],[2.42,0.98],[2.34,1.44],[2.31,1.90],[2.19,2.36],[2.03,2.64],[1.80,2.77],[1.41,2.82],[1.02,2.83],[0.64,2.84],[0.25,2.82],[-0.02,2.73],[-0.18,2.59],[-0.37,2.45],[-0.53,2.36],[-0.76,2.22],[-0.99,2.04],[-1.15,1.90],[-1.30,1.71],[-1.42,1.44],[-1.48,1.12],[-1.50,0.79],[-1.46,0.47],[-1.34,0.19],[-1.19,0.06],[-0.99,0.01],[-0.84,0.06],[-0.68,0.10],[-0.63,0.12],[-0.68,0.19],[-0.80,0.15],[-0.95,0.01]],
  [[-0.45,2.13],[-0.33,1.90],[-0.14,1.76],[0.25,1.53],[0.64,1.35],[0.95,1.12],[1.22,0.84],[1.41,0.65],[1.61,0.47],[1.80,0.15],[1.92,-0.22],[1.98,-0.64],[1.98,-1.10],[1.92,-1.56],[1.80,-1.88],[1.61,-2.16],[1.34,-2.34],[1.02,-2.43],[0.64,-2.46],[0.25,-2.43],[-0.14,-2.41],[-0.53,-2.43],[-0.88,-2.48]],
  [[-0.99,2.03],[-0.68,2.12],[-0.37,2.13],[-0.06,2.11],[0.25,2.04],[0.40,1.81],[0.44,1.53],[0.40,1.30],[0.33,1.07],[0.29,0.84],[0.33,0.61],[0.40,0.33],[0.36,0.15],[0.21,0.10],[0.02,0.15],[-0.18,0.24],[-0.37,0.29],[-0.61,0.24],[-0.80,0.15],[-0.95,0.01],[-0.99,-0.22],[-0.95,-0.41],[-0.88,-0.50],[-0.82,-0.45]],
  [[-1.34,1.12],[-0.92,1.25],[-0.33,1.44],[0.25,1.58],[0.83,1.81],[1.10,1.99],[1.22,2.18],[1.22,2.34],[1.10,2.45],[0.87,2.49],[0.56,2.47],[0.25,2.38],[-0.06,2.27],[-0.37,2.15],[-0.68,2.06],[-0.92,1.99]],
  [[-1.58,0.61],[-1.30,0.79],[-0.92,0.93],[-0.53,1.07],[-0.14,1.18],[0.25,1.30],[0.44,1.39]],
  [[-2.31,1.81],[-2.20,1.71],[-2.08,1.44],[-1.96,1.12],[-1.85,0.70],[-1.77,0.29],[-1.75,-0.04],[-1.81,-0.13],[-1.89,0.06],[-2.00,0.42],[-2.16,0.98],[-2.27,1.44],[-2.32,1.76]],
  [[-1.93,-0.13],[-1.96,-0.27],[-1.89,-0.41],[-1.69,-0.55],[-1.50,-0.64],[-1.30,-0.68],[-1.11,-0.73],[-0.95,-0.68],[-0.84,-0.45]],
  [[-1.58,0.52],[-1.61,0.06],[-1.58,-0.41],[-1.50,-0.73],[-1.44,-0.89],[-1.38,-0.77],[-1.30,-0.55],[-1.19,-0.18],[-1.11,0.15],[-1.03,0.52],[-0.95,0.98],[-0.92,1.44],[-0.88,1.81],[-0.84,2.13],[-0.80,2.45],[-0.76,2.59],[-0.68,2.66],[-0.53,2.59],[-0.37,2.45],[-0.22,2.31]],
  [[0.01,0.01],[-0.14,-0.06],[-0.33,-0.18],[-0.49,-0.31],[-0.51,-0.54],[-0.53,-0.73],[-0.61,-0.87],[-0.68,-1.03],[-0.84,-1.17],[-0.99,-1.18],[-1.15,-1.07],[-1.30,-0.89],[-1.42,-0.73]],
  [[-1.89,-2.02],[-1.81,-1.88],[-1.73,-1.86],[-1.69,-1.88],[-1.77,-1.93],[-1.85,-2.00]],
  [[-1.85,-1.97],[-1.69,-1.67],[-1.50,-1.47],[-1.23,-1.37],[-0.92,-1.37],[-0.68,-1.47],[-0.45,-1.65],[-0.14,-1.88],[0.25,-2.06],[0.56,-2.11],[0.83,-2.02],[1.02,-1.79],[1.10,-1.33],[1.14,-0.87],[1.10,-0.41],[1.02,0.06],[0.99,0.52],[0.97,0.88],[0.87,1.07],[0.64,1.25],[0.37,1.39]]
];

// axis ticks
var ticksV101 = { y: [-4, -3, -2, -1, 0, 1], x: [-3, -2, -1, 0, 1] };
var ticksV201 = { y: [-2, -1, 0, 1, 2, 3], x: [-2, -1, 0, 1, 2, 3] };
var ticksV102 = { y: [-4, -3, -2, -1, 0, 1], x: [-3, -2, -1, 0, 1] };
var ticksV202 = { y: [-2, -1, 0, 1, 2, 3], x: [-3, -2, -1, 0, 1, 2, 3] };
var ticksV103 = { y: [-4, -3, -2, -1, 0, 1], x: [-3.0, -2.5, -2.0, -1.5, -1.0, -0.5, 0.0, 0.5] };
var ticksV203 = { y: [-2, -1, 0, 1, 2, 3], x: [-2, -1, 0, 1, 2, 3] };

var seriesNames = ['GT', 'Proposed (Lvl. 1)'];
var seriesColors = ['#008000', '#0000ff'];

var intFmt = d3.format('d');
var panels = [
  { name: 'V1-01', gt: v101Gt, est: v101Est, ticks: ticksV101, yLim: [-4.98, 1.47], xLim: [-3.36, 1.46], left: 79, top: 10, tag: [456, 415], ylabOff: -44, xFmt: intFmt },
  { name: 'V2-01', gt: v201Gt, est: v201Est, ticks: ticksV201, yLim: [-2.71, 3.05], xLim: [-2.97, 3.45], left: 748, top: 10, tag: [35, 52], ylabOff: -43, xFmt: intFmt },
  { name: 'V1-02', gt: v102Gt, est: v102Est, ticks: ticksV102, yLim: [-4.14, 1.54], xLim: [-3.06, 1.64], left: 79, top: 516, tag: [30, 295], ylabOff: -44, xFmt: intFmt },
  { name: 'V2-02', gt: v202Gt, est: v202Est, ticks: ticksV202, yLim: [-2.99, 3.07], xLim: [-3.35, 3.62], left: 748, top: 516, tag: [31, 102], ylabOff: -43, xFmt: intFmt },
  { name: 'V1-03', gt: v103Gt, est: v103Est, ticks: ticksV103, yLim: [-4.07, 1.77], xLim: [-3.29, 0.94], left: 79, top: 1021, tag: [42, 332], ylabOff: -58, xFmt: d3.format('.1f') },
  { name: 'V2-03', gt: v203Gt, est: v203Est, ticks: ticksV203, yLim: [-2.87, 3.25], xLim: [-2.95, 3.28], left: 748, top: 1021, tag: [39, 41], ylabOff: -43, xFmt: intFmt }
];

var W = 606, H = 452;
var svg = d3.select('#fig').attr('width', 1370).attr('height', 1526);
svg.append('rect').attr('width', 1370).attr('height', 1526).attr('fill', '#fff');

panels.forEach(function(p, i) {
  var g = svg.append('g').attr('transform', 'translate(' + p.left + ',' + p.top + ')');
  var x = d3.scaleLinear().domain(p.yLim).range([0, W]);
  var y = d3.scaleLinear().domain(p.xLim).range([H, 0]);

  g.append('clipPath').attr('id', 'clip' + i)
    .append('rect').attr('width', W).attr('height', H);

  // grid (dotted black)
  var grid = g.append('g').attr('stroke', '#000').attr('stroke-width', 0.8).attr('stroke-dasharray', '1,1');
  grid.selectAll('line.v').data(p.ticks.y).enter().append('line')
    .attr('x1', function(d) { return x(d); }).attr('x2', function(d) { return x(d); })
    .attr('y1', 0).attr('y2', H);
  grid.selectAll('line.h').data(p.ticks.x).enter().append('line')
    .attr('y1', function(d) { return y(d); }).attr('y2', function(d) { return y(d); })
    .attr('x1', 0).attr('x2', W);

  // trajectories
  var line = d3.line()
    .x(function(d) { return x(d[0]); })
    .y(function(d) { return y(d[1]); })
    .curve(d3.curveCatmullRom.alpha(0.5));
  var plot = g.append('g').attr('clip-path', 'url(#clip' + i + ')');
  [p.gt, p.est].forEach(function(strokes, k) {
    plot.append('g').selectAll('path').data(strokes).enter().append('path')
      .attr('d', line)
      .attr('fill', 'none')
      .attr('stroke', seriesColors[k])
      .attr('stroke-width', 2)
      .attr('stroke-linejoin', 'round')
      .attr('stroke-linecap', 'round');
  });

  // sequence tag
  g.append('text')
    .attr('x', p.tag[0]).attr('y', p.tag[1])
    .style('font-family', '"DejaVu Sans", sans-serif')
    .style('font-size', '25px')
    .style('letter-spacing', '5px')
    .attr('fill', '#000')
    .text(p.name);

  // legend
  var lg = g.append('g').attr('transform', 'translate(8.5,' + (H - 63) + ')');
  lg.append('rect').attr('width', 186).attr('height', 54).attr('rx', 3)
    .attr('fill', '#fff').attr('fill-opacity', 0.8)
    .attr('stroke', '#cccccc').attr('stroke-width', 1);
  seriesNames.forEach(function(n, k) {
    var yy = 13 + k * 25;
    lg.append('line').attr('x1', 6).attr('x2', 42).attr('y1', yy).attr('y2', yy)
      .attr('stroke', seriesColors[k]).attr('stroke-width', 2);
    lg.append('text').attr('x', 54).attr('y', yy + 5)
      .style('font-family', '"DejaVu Sans", sans-serif')
      .style('font-size', '15px')
      .text(n);
  });

  // frame
  g.append('rect').attr('width', W).attr('height', H)
    .attr('fill', 'none').attr('stroke', '#000').attr('stroke-width', 1.2);

  // axes
  var ax = g.append('g').attr('transform', 'translate(0,' + H + ')')
    .call(d3.axisBottom(x).tickValues(p.ticks.y).tickSize(4).tickPadding(4).tickFormat(intFmt));
  var ay = g.append('g')
    .call(d3.axisLeft(y).tickValues(p.ticks.x).tickSize(4).tickPadding(4).tickFormat(p.xFmt));
  [ax, ay].forEach(function(a) {
    a.select('.domain').remove();
    a.selectAll('line').attr('stroke', '#000').attr('stroke-width', 1);
    a.selectAll('text').attr('fill', '#000')
      .style('font-family', '"Liberation Serif", serif').style('font-size', '15px');
  });

  g.append('text').attr('x', W / 2).attr('y', H + 46).attr('text-anchor', 'middle')
    .style('font-size', '15px').text('Y [m]');
  g.append('text').attr('transform', 'translate(' + p.ylabOff + ',' + (H / 2) + ') rotate(-90)')
    .attr('text-anchor', 'middle').style('font-size', '15px').text('X [m]');
});
</script>
</body>
</html>
